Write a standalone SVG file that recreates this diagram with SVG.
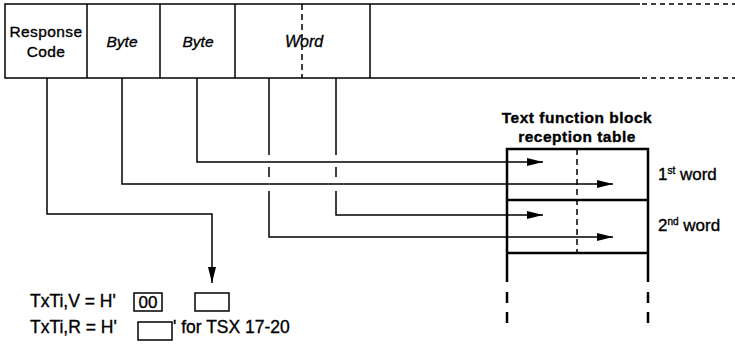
<svg xmlns="http://www.w3.org/2000/svg" width="735" height="358" viewBox="0 0 735 358">
<style>
.ln{fill:none;stroke:#000;stroke-width:1.5}
.tb{fill:none;stroke:#000;stroke-width:2.5}
.ds{fill:none;stroke:#000;stroke-width:1.5;stroke-dasharray:5 4}
.t{font-family:"Liberation Sans",Arial,sans-serif;fill:#000;stroke:#000;stroke-width:0.35}
</style>
<defs>
<marker id="ah" viewBox="0 0 16 8" refX="16" refY="4" markerWidth="16" markerHeight="8" markerUnits="userSpaceOnUse" orient="auto">
<path d="M0,0 L16,4 L0,8 Z" fill="#000"/>
</marker>
</defs>
<rect width="735" height="358" fill="#fff"/>

<g id="frame">
<path class="ln" d="M640,4 H5 V78 H640"/>
<path class="ds" d="M642,4 H735 M642,78 H735"/>
<path class="ln" d="M87,4 V78 M160,4 V78 M235,4 V78 M370,4 V78"/>
<path class="ln" d="M302,4 V78" stroke-dasharray="6 4"/>
</g>
<g id="response-code">
<text class="t" x="46" y="37" font-size="15.5" text-anchor="middle" letter-spacing="0.4">Response</text>
<text class="t" x="46" y="57" font-size="15.5" text-anchor="middle" letter-spacing="0.4">Code</text>
</g>
<g id="byte1"><text class="t" x="122" y="47" font-size="15.5" font-style="italic" text-anchor="middle">Byte</text></g>
<g id="byte2"><text class="t" x="198" y="47" font-size="15.5" font-style="italic" text-anchor="middle">Byte</text></g>
<g id="word"><text class="t" x="304" y="47" font-size="16" font-style="italic" text-anchor="middle">Word</text></g>

<g id="table">
<text class="t" x="577" y="123" font-size="15.5" font-weight="bold" text-anchor="middle" letter-spacing="0.5">Text function block</text>
<text class="t" x="577" y="142" font-size="15.5" font-weight="bold" text-anchor="middle" letter-spacing="0.5">reception table</text>
<path class="tb" d="M507,282 V149 H648 V282 M507,200 H648 M507,253 H648"/>
<path class="tb" d="M507,292 V303 M507,312 V323 M648,292 V303 M648,312 V323"/>
<path class="ln" d="M577,149 V253" stroke-width="1.2" stroke-dasharray="6 4"/>
<text class="t" x="658" y="180" font-size="17">1<tspan font-size="10" dy="-6">st</tspan><tspan dy="6"> word</tspan></text>
<text class="t" x="658" y="231" font-size="17">2<tspan font-size="10" dy="-6">nd</tspan><tspan dy="6">  word</tspan></text>
</g>

<g id="connectors">
<path class="ln" d="M47,78 V214 H212 V283" marker-end="url(#ah)"/>
<path class="ln" d="M122,78 V184 H613" marker-end="url(#ah)"/>
<path class="ln" d="M197,78 V162 H543" marker-end="url(#ah)"/>
<path class="ln" d="M269,78 V155 M269,167 V177 M269,191 V237 H613" marker-end="url(#ah)"/>
<path class="ln" d="M336,78 V155 M336,167 V177 M336,191 V215 H543" marker-end="url(#ah)"/>
</g>

<g id="registers">
<text class="t" x="30" y="307" font-size="17.5">TxTi,V = H'</text>
<rect class="ln" x="134" y="293" width="28" height="18"/>
<text class="t" x="148" y="308" font-size="17" text-anchor="middle">00</text>
<rect class="ln" x="195" y="293" width="34" height="18"/>
<text class="t" x="30" y="333" font-size="17.5">TxTi,R = H'</text>
<rect class="ln" x="138" y="322" width="34" height="18"/>
<text class="t" x="173" y="333" font-size="17.5">' for TSX 17-20</text>
</g>
</svg>
